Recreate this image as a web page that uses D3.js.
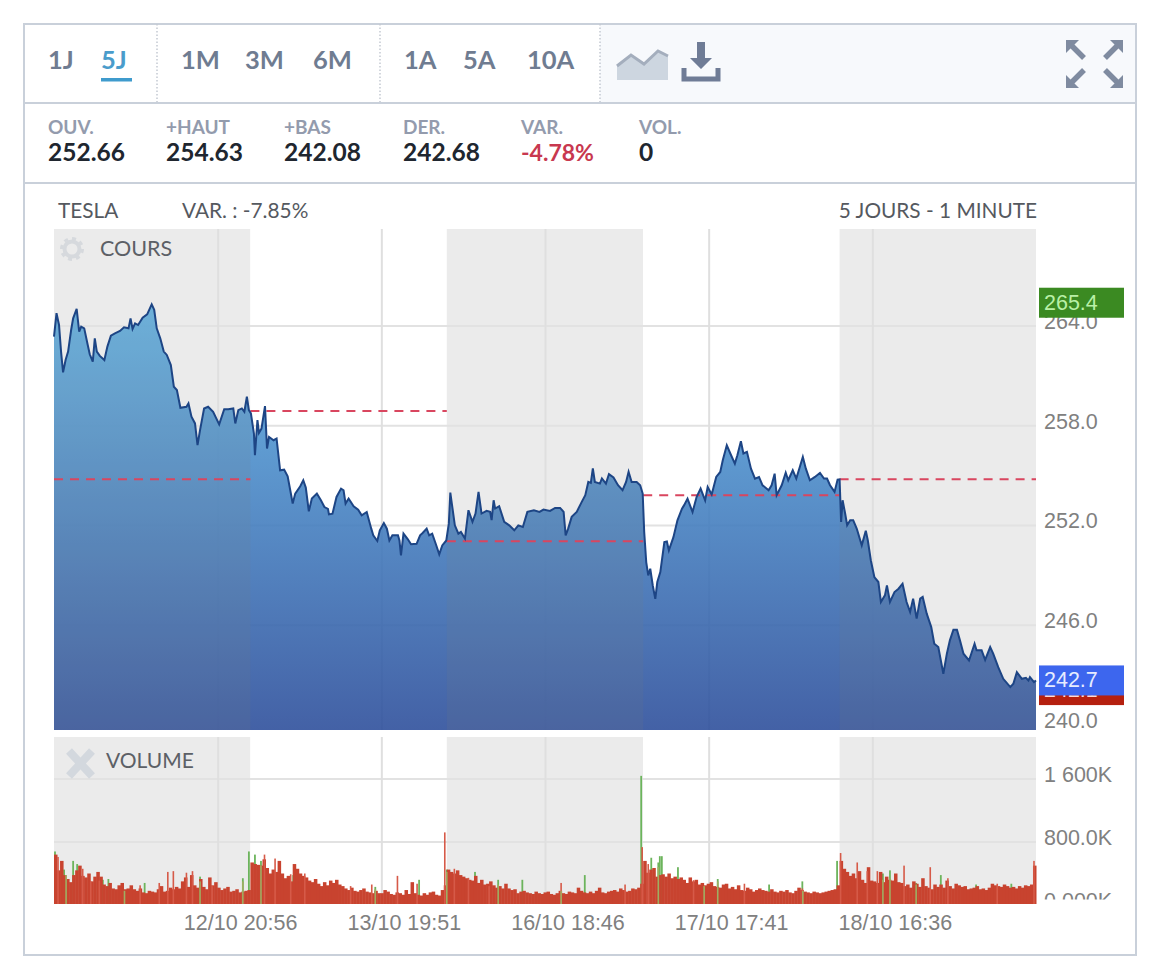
<!DOCTYPE html>
<html>
<head>
<meta charset="utf-8">
<script src="https://cdnjs.cloudflare.com/ajax/libs/d3/7.8.5/d3.min.js"></script>
<style>
  body { margin: 0; background: #fff; }
  text { font-family: Lato, sans-serif; }
  .axisTxt text { font-family: "Liberation Sans", sans-serif; font-size: 21.5px; fill: #808080; }
  .axisTxt path, .axisTxt line { display: none; }
</style>
</head>
<body>
<div id="chart"></div>
<script>
// Header values
var periodGroups = [["1J", "5J"], ["1M", "3M", "6M"], ["1A", "5A", "10A"]];
var statLabels = ["OUV.", "+HAUT", "+BAS", "DER.", "VAR.", "VOL."];
var statValues = ["252.66", "254.63", "242.08", "242.68", "-4.78%", "0"];

// Axis values
var priceTicks = [240, 246, 252, 258, 264];
var volumeTicks = [0, 800, 1600];
var volumeTickLabels = ["0.000K", "800.0K", "1 600K"];
var timeTicks = [326, 651, 976, 1301, 1626];
var timeLabels = ["12/10 20:56", "13/10 19:51", "16/10 18:46", "17/10 17:41", "18/10 16:36"];
var sessionStarts = [0, 390, 780, 1170, 1560, 1950];

// Reference level of each session (dashed)
var sessionRefs = [254.78, 258.88, 251.05, 253.82, 254.78];

var highPrice = 265.4, lowPrice = 242.1, lastPrice = 242.68;

// Price, [minute, value]
var priceDay1 = [[0,263.36],[5,264.77],[10,264.06],[14,262.46],[18,261.21],[23,261.95],[28,262.46],[34,263.76],[38,264.46],[45,265.03],[50,263.66],[54,263.96],[60,263.86],[67,262.86],[71,262.3],[77,261.85],[81,263.26],[85,262.46],[91,262.2],[100,261.95],[106,262.76],[113,263.42],[121,263.56],[131,263.7],[139,263.92],[148,263.86],[152,264.46],[156,263.82],[161,264.16],[167,264.06],[176,264.5],[185,264.7],[194,265.3],[199,264.97],[204,263.86],[211,263.26],[218,262.46],[224,262.26],[232,261.65],[238,260.35],[244,260.15],[251,259.08],[263,259.14],[267,259.34],[273,258.54],[280,258.14],[285,256.83],[290,257.74],[298,259.04],[306,259.14],[316,258.84],[328,258.08],[338,259.0],[346,259.0],[356,259.04],[360,258.14],[366,258.94],[373,259.04],[378,258.84],[383,259.75],[387,258.94]];
var priceDay2 = [[391,258.74],[397,257.53],[399,256.23],[404,258.34],[407,257.57],[412,257.83],[419,259.18],[423,256.63],[427,257.33],[436,257.13],[442,257.23],[449,255.32],[457,255.36],[464,254.96],[471,253.82],[474,253.32],[479,253.92],[489,254.36],[495,254.72],[500,254.28],[506,252.85],[512,253.62],[522,253.92],[530,253.52],[537,253.11],[544,253.0],[546,252.67],[553,252.71],[561,253.72],[570,254.22],[575,254.12],[579,253.32],[585,253.62],[595,253.15],[604,252.95],[611,252.61],[621,252.81],[630,251.81],[634,251.41],[642,251.07],[647,251.71],[655,252.15],[661,251.81],[666,251.1],[672,251.41],[683,251.41],[686,251.1],[689,250.2],[694,251.51],[702,251.2],[709,250.87],[720,250.9],[727,251.41],[732,251.55],[740,251.81],[745,251.41],[751,251.51],[758,250.9],[765,250.26],[771,250.8],[779,251.1]];
var priceDay3 = [[784,252.11],[787,253.98],[790,253.32],[796,252.01],[803,251.51],[808,251.61],[816,251.21],[823,252.92],[831,252.22],[837,252.72],[843,254.02],[849,252.72],[859,252.88],[866,252.82],[869,252.32],[873,253.52],[876,253.02],[884,253.16],[894,252.22],[904,252.01],[914,251.71],[922,252.01],[931,251.91],[940,252.82],[953,252.92],[964,252.82],[972,252.96],[985,252.88],[995,253.06],[1005,253.06],[1012,252.82],[1016,251.41],[1021,251.81],[1028,252.52],[1038,252.82],[1048,253.42],[1055,253.82],[1061,254.62],[1066,254.56],[1070,255.43],[1074,254.62],[1084,254.52],[1088,254.83],[1096,254.52],[1102,255.09],[1111,254.89],[1120,254.42],[1129,254.12],[1136,254.62],[1141,255.23],[1147,254.62],[1157,254.62]];
var priceDay4 = [[1164,254.42],[1169,253.92],[1172,251.61],[1176,249.8],[1180,249.0],[1184,249.4],[1189,248.39],[1194,247.59],[1198,248.6],[1204,249.2],[1212,251.0],[1217,251.04],[1221,250.5],[1230,251.3],[1238,252.31],[1247,253.01],[1251,253.21],[1258,253.61],[1268,252.81],[1276,253.71],[1284,254.22],[1293,253.51],[1298,254.32],[1306,253.86],[1315,254.92],[1323,255.22],[1328,255.92],[1336,256.83],[1343,256.33],[1352,255.72],[1357,256.23],[1364,257.07],[1369,256.33],[1376,256.43],[1384,255.42],[1392,254.82],[1400,254.92],[1407,254.42],[1419,254.12],[1425,254.42],[1431,255.12],[1435,253.82],[1445,254.42],[1453,255.18],[1458,254.72],[1467,255.32],[1474,254.82],[1482,255.62],[1487,256.12],[1493,255.42],[1501,254.72],[1511,254.92],[1521,255.16],[1529,254.82],[1535,254.82],[1541,254.42],[1550,254.02],[1556,254.76]];
var priceDay5 = [[1560,254.77],[1563,252.22],[1566,253.52],[1571,252.72],[1575,252.02],[1581,252.32],[1587,252.32],[1594,251.82],[1604,250.81],[1612,251.68],[1616,251.11],[1622,249.91],[1629,248.9],[1637,248.6],[1642,247.4],[1650,247.8],[1654,248.4],[1660,247.4],[1669,248.0],[1677,248.2],[1685,248.5],[1693,247.4],[1700,246.8],[1706,247.6],[1713,246.4],[1720,247.6],[1725,247.7],[1733,246.7],[1742,245.89],[1748,244.89],[1756,244.69],[1766,243.08],[1773,244.29],[1779,245.09],[1786,245.73],[1793,245.73],[1799,245.09],[1806,244.29],[1817,243.88],[1828,244.89],[1832,244.49],[1842,244.49],[1849,243.92],[1859,244.69],[1865,244.29],[1875,243.48],[1885,242.78],[1899,242.28],[1905,242.48],[1912,243.18],[1922,242.78],[1930,242.84],[1935,242.68],[1938,242.88],[1946,242.58],[1950,242.68]];

// Volume in K, one list per session, evenly spread over the session
var volDay1 = [640,440,560,380,330,290,380,440,500,370,350,400,300,360,420,360,260,240,280,210,200,250,280,200,210,250,200,180,210,160,150,180,170,160,200,240,170,180,220,200,230,210,300,350,230,380,250,220,330,230,200,350,250,290,220,190,210,230,170,180,200,160,170,180,190];
var volDay2 = [540,520,510,500,580,470,400,450,420,560,400,340,370,300,520,460,400,370,350,310,290,330,270,240,290,250,310,280,320,260,240,210,190,220,180,170,190,210,170,160,150,180,150,150,190,170,140,130,160,150,130,190,140,290,150,130,120,150,130,160,170,130,120,190,250];
var volDay3 = [450,420,400,440,380,360,340,320,310,370,280,320,260,270,300,250,220,240,210,270,210,190,200,150,170,180,160,150,140,170,150,140,160,170,140,130,150,180,150,140,170,160,150,220,180,160,150,170,150,180,220,160,150,170,180,190,170,210,190,170,180,210,200,220,270];
var volDay4 = [560,410,450,470,360,380,390,360,400,340,360,330,350,320,280,350,300,320,260,280,250,270,290,240,230,220,260,270,210,230,200,250,190,180,220,200,170,190,210,190,180,170,200,170,160,180,170,190,160,150,180,220,190,170,160,150,170,160,150,160,170,180,190,200,250];
var volDay5 = [560,460,420,370,400,340,430,320,280,480,310,300,280,420,290,360,320,310,400,290,280,240,260,220,300,270,230,340,240,220,200,260,230,260,220,310,240,210,270,250,230,240,200,210,220,240,200,210,190,220,270,250,240,230,260,240,220,230,210,240,220,250,240,260,500];

// Thin spikes, [minute, value in K]
var greenSpikes = [[2,680],[20,450],[38,560],[46,520],[97,320],[108,330],[140,180],[180,280],[290,360],[375,340],[387,680],[399,640],[411,560],[475,380],[638,230],[725,320],[780,450],[836,420],[882,320],[930,320],[1054,380],[1166,1640],[1186,600],[1200,540],[1203,620],[1207,620],[1239,480],[1318,330],[1420,260],[1486,300],[1555,560],[1646,400],[1660,440],[1712,280],[1761,380],[1831,260],[1901,270]];
var redSpikes = [[8,610],[57,460],[73,300],[90,310],[171,250],[209,280],[226,420],[237,430],[263,410],[275,430],[314,240],[418,640],[439,590],[470,390],[498,400],[589,240],[631,260],[682,370],[721,270],[776,922],[795,460],[823,345],[864,240],[1007,280],[1134,260],[1168,735],[1180,520],[1270,315],[1371,270],[1486,210],[1562,660],[1595,540],[1615,430],[1635,430],[1688,500],[1740,480],[1775,340],[1873,270],[1946,560]];
// Green bars that show through the red ones, minutes
var greenStreaks = [[24,380],[140,180],[290,300],[375,300],[411,500],[638,200],[780,420],[882,260],[1007,180],[1200,480],[1291,240],[1318,300],[1487,180],[1646,320],[1660,340],[1712,260]];

var width = 1150, height = 976;
var plotLeft = 54, plotRight = 1036;
var priceTop = 229, priceBottom = 730;
var volTop = 737, volBottom = 904;

var svg = d3.select("#chart").append("svg")
  .attr("width", width)
  .attr("height", height);

var defs = svg.append("defs");

var grad = defs.append("linearGradient")
  .attr("id", "areaFill")
  .attr("gradientUnits", "userSpaceOnUse")
  .attr("x1", 0).attr("x2", 0)
  .attr("y1", 305).attr("y2", priceBottom);
grad.append("stop").attr("offset", "0%").attr("stop-color", "#5cb0e4");
grad.append("stop").attr("offset", "100%").attr("stop-color", "#2f509c");

defs.append("clipPath").attr("id", "volClip")
  .append("rect")
  .attr("x", 0).attr("y", 0)
  .attr("width", width).attr("height", volBottom);

// Scales
var xScale = d3.scaleLinear().domain([0, 1950]).range([plotLeft, plotRight]);
var yPrice = d3.scaleLinear().domain([240, 264]).range([725, 326]);
var yVolume = d3.scaleLinear().domain([0, 1600]).range([905, 779]);

// Frame and header
var frameColor = "#c9d0da";
svg.append("rect")
  .attr("x", 600).attr("y", 24)
  .attr("width", 535).attr("height", 79)
  .attr("fill", "#f7f9fc");
svg.append("rect")
  .attr("x", 24).attr("y", 24)
  .attr("width", 1112).attr("height", 931)
  .attr("fill", "none")
  .attr("stroke", frameColor)
  .attr("stroke-width", 2);
[103, 183].forEach(function(y) {
  svg.append("line")
    .attr("x1", 24).attr("x2", 1136)
    .attr("y1", y).attr("y2", y)
    .attr("stroke", frameColor)
    .attr("stroke-width", 2);
});
[157, 380, 600].forEach(function(x) {
  svg.append("line")
    .attr("x1", x).attr("x2", x)
    .attr("y1", 24).attr("y2", 102)
    .attr("stroke", "#c4c9d2")
    .attr("stroke-width", 1.5)
    .attr("stroke-dasharray", "1.5 2");
});

// Period buttons
var periodX = [[48, 101], [181, 245, 313], [404, 463, 527]];
periodGroups.forEach(function(group, g) {
  group.forEach(function(label, i) {
    svg.append("text")
      .attr("x", periodX[g][i])
      .attr("y", 68.5)
      .attr("font-size", 25.5)
      .attr("font-weight", 700)
      .attr("fill", label === "5J" ? "#4a9ccb" : "#6f7c91")
      .text(label);
  });
});
svg.append("rect")
  .attr("x", 101).attr("y", 78)
  .attr("width", 31).attr("height", 3.5)
  .attr("fill", "#3f9bcd");

// Toolbar icons
svg.append("path")
  .attr("d", "M617 80V66L631 55L644 64L658 51L668 56V80Z")
  .attr("fill", "#cdd6e0");
svg.append("path")
  .attr("d", "M617 66L631 55L644 64L658 51L668 56")
  .attr("fill", "none")
  .attr("stroke", "#a4aebd")
  .attr("stroke-width", 3);
svg.append("path")
  .attr("d", "M697 42H705V58H712L701 69L690 58H697Z")
  .attr("fill", "#6f7c96");
svg.append("path")
  .attr("d", "M684 68V79H718V68")
  .attr("fill", "none")
  .attr("stroke", "#6f7c96")
  .attr("stroke-width", 5);

// Expand arrows
var arrowColor = "#7f8ba0";
[
  { head: "M1066 40H1079L1066 53Z", shaft: "M1071 45L1084 58" },
  { head: "M1123 40H1110L1123 53Z", shaft: "M1118 45L1105 58" },
  { head: "M1066 88H1079L1066 75Z", shaft: "M1071 83L1084 70" },
  { head: "M1123 88H1110L1123 75Z", shaft: "M1118 83L1105 70" }
].forEach(function(a) {
  svg.append("path").attr("d", a.head).attr("fill", arrowColor);
  svg.append("path").attr("d", a.shaft)
    .attr("stroke", arrowColor)
    .attr("stroke-width", 5.5);
});

// Quote strip
var statX = [48, 166, 284, 403, 521, 639];
statLabels.forEach(function(label, i) {
  svg.append("text")
    .attr("x", statX[i]).attr("y", 134)
    .attr("font-size", 19)
    .attr("font-weight", 700)
    .attr("fill", "#939bad")
    .text(label);
  svg.append("text")
    .attr("x", statX[i]).attr("y", 161)
    .attr("font-size", label === "VAR." ? 23 : 24.5)
    .attr("font-weight", 700)
    .attr("fill", label === "VAR." ? "#c8384f" : "#20262f")
    .text(statValues[i]);
});

// Chart titles
svg.append("text").attr("x", 58).attr("y", 218)
  .attr("font-size", 20.8).attr("fill", "#55595f").text("TESLA");
svg.append("text").attr("x", 182).attr("y", 218)
  .attr("font-size", 20.8).attr("fill", "#55595f").text("VAR. : -7.85%");
svg.append("text").attr("x", 1037).attr("y", 218)
  .attr("text-anchor", "end")
  .attr("font-size", 20.8).attr("fill", "#55595f").text("5 JOURS - 1 MINUTE");

// Panel background: sessions and grid
function drawPanel(top, bottom, yTicks, yScale) {
  var panel = svg.append("g");
  panel.selectAll(".session")
    .data(d3.range(5))
    .enter()
    .append("rect")
    .attr("x", d => xScale(sessionStarts[d]))
    .attr("y", top)
    .attr("width", d => xScale(sessionStarts[d + 1]) - xScale(sessionStarts[d]))
    .attr("height", bottom - top)
    .attr("fill", d => d % 2 === 0 ? "#ebebeb" : "#ffffff");
  panel.selectAll(".hgrid")
    .data(yTicks)
    .enter()
    .append("line")
    .attr("x1", plotLeft).attr("x2", plotRight)
    .attr("y1", d => yScale(d)).attr("y2", d => yScale(d))
    .attr("stroke", "#e2e2e2")
    .attr("stroke-width", 2);
  panel.selectAll(".vgrid")
    .data(timeTicks)
    .enter()
    .append("line")
    .attr("x1", d => xScale(d)).attr("x2", d => xScale(d))
    .attr("y1", top).attr("y2", bottom)
    .attr("stroke", "#dfdfdf")
    .attr("stroke-width", 2);
}

drawPanel(priceTop, priceBottom, priceTicks.filter(d => d > 240), yPrice);
drawPanel(volTop, volBottom, volumeTicks.filter(d => d > 0), yVolume);

// Price area and line
var priceData = priceDay1.concat(priceDay2, priceDay3, priceDay4, priceDay5);

var area = d3.area()
  .x(d => xScale(d[0]))
  .y0(priceBottom)
  .y1(d => yPrice(d[1]));
var line = d3.line()
  .x(d => xScale(d[0]))
  .y(d => yPrice(d[1]));

svg.append("path")
  .datum(priceData)
  .attr("d", area)
  .attr("fill", "url(#areaFill)")
  .attr("fill-opacity", 0.9);

// Grey sessions dull the area a little
defs.append("clipPath").attr("id", "areaClip")
  .append("path")
  .datum(priceData)
  .attr("d", area);
svg.append("g")
  .attr("clip-path", "url(#areaClip)")
  .selectAll("rect")
  .data([0, 2, 4])
  .enter()
  .append("rect")
  .attr("x", d => xScale(sessionStarts[d]))
  .attr("y", priceTop)
  .attr("width", d => xScale(sessionStarts[d + 1]) - xScale(sessionStarts[d]))
  .attr("height", priceBottom - priceTop)
  .attr("fill", "#8c8c80")
  .attr("opacity", 0.12);

// Dashed session references
svg.selectAll(".refLine")
  .data(sessionRefs)
  .enter()
  .append("line")
  .attr("x1", (d, i) => xScale(sessionStarts[i]))
  .attr("x2", (d, i) => xScale(sessionStarts[i + 1]))
  .attr("y1", d => yPrice(d))
  .attr("y2", d => yPrice(d))
  .attr("stroke", "#d9465f")
  .attr("stroke-width", 2)
  .attr("stroke-dasharray", "9 7");

svg.append("path")
  .datum(priceData)
  .attr("d", line)
  .attr("fill", "none")
  .attr("stroke", "#1d4585")
  .attr("stroke-width", 2);

// Panel captions
svg.append("circle").attr("cx", 72).attr("cy", 249).attr("r", 7.5)
  .attr("fill", "none").attr("stroke", "#d6d9dd").attr("stroke-width", 4);
svg.append("circle").attr("cx", 72).attr("cy", 249).attr("r", 10.5)
  .attr("fill", "none").attr("stroke", "#d6d9dd").attr("stroke-width", 3)
  .attr("stroke-dasharray", "4 4.2");
svg.append("text").attr("x", 100).attr("y", 256)
  .attr("font-size", 21.5).attr("fill", "#5c6066").text("COURS");

svg.append("path")
  .attr("d", "M69 751L92 776M92 751L69 776")
  .attr("stroke", "#d3d8de")
  .attr("stroke-width", 8);
svg.append("text").attr("x", 106).attr("y", 768)
  .attr("font-size", 21).attr("fill", "#5c6066").text("VOLUME");

// Volume bars
var volGroup = svg.append("g").attr("clip-path", "url(#volClip)");

volGroup.selectAll(".greenSpike")
  .data(greenSpikes)
  .enter()
  .append("rect")
  .attr("x", d => xScale(d[0]) - 0.9)
  .attr("y", d => yVolume(d[1]))
  .attr("width", 1.8)
  .attr("height", d => yVolume(0) - yVolume(d[1]))
  .attr("fill", "#6cb45c");

var volDays = [volDay1, volDay2, volDay3, volDay4, volDay5];
volDays.forEach(function(dayValues, day) {
  var step = (sessionStarts[day + 1] - sessionStarts[day]) / dayValues.length;
  volGroup.selectAll(".volDay" + day)
    .data(dayValues)
    .enter()
    .append("rect")
    .attr("class", "volDay" + day)
    .attr("x", (d, i) => xScale(sessionStarts[day] + i * step))
    .attr("y", d => yVolume(d))
    .attr("width", xScale(step) - xScale(0) + 0.5)
    .attr("height", d => yVolume(0) - yVolume(d))
    .attr("fill", "#c8432f");
});

volGroup.selectAll(".redSpike")
  .data(redSpikes)
  .enter()
  .append("rect")
  .attr("x", d => xScale(d[0]) - 0.8)
  .attr("y", d => yVolume(d[1]))
  .attr("width", 1.6)
  .attr("height", d => yVolume(0) - yVolume(d[1]))
  .attr("fill", "#d65a48");

volGroup.selectAll(".greenStreak")
  .data(greenStreaks)
  .enter()
  .append("rect")
  .attr("x", d => xScale(d[0]) - 0.8)
  .attr("y", d => yVolume(d[1]))
  .attr("width", 1.6)
  .attr("height", d => yVolume(0) - yVolume(d[1]))
  .attr("fill", "#9fae62");

// Axes
svg.append("g")
  .attr("class", "axisTxt")
  .attr("transform", "translate(1039, -4.5)")
  .call(d3.axisRight(yPrice).tickValues(priceTicks).tickSize(0).tickPadding(5).tickFormat(d => d.toFixed(1)));

svg.append("g")
  .attr("class", "axisTxt")
  .attr("clip-path", "url(#volClip)")
  .attr("transform", "translate(1039, -4.5)")
  .call(d3.axisRight(yVolume).tickValues(volumeTicks).tickSize(0).tickPadding(5)
    .tickFormat((d, i) => volumeTickLabels[i]));

svg.append("g")
  .attr("class", "axisTxt")
  .attr("transform", "translate(22, 904)")
  .call(d3.axisBottom(xScale).tickValues(timeTicks).tickSize(0).tickPadding(11)
    .tickFormat((d, i) => timeLabels[i]));

// Price tags
function priceTag(value, fill, textFill) {
  var y = yPrice(value);
  svg.append("rect")
    .attr("x", 1039).attr("y", y - 15)
    .attr("width", 85).attr("height", 30)
    .attr("fill", fill);
  svg.append("text")
    .attr("x", 1044).attr("y", y + 7)
    .style("font-family", "Liberation Sans")
    .attr("font-size", 21.5)
    .attr("fill", textFill)
    .text(value.toFixed(1));
}

priceTag(highPrice, "#3b8a22", "#b9f0a6");
priceTag(lowPrice, "#b5200f", "#ffd9d2");
priceTag(lastPrice, "#3d66ee", "#e6ecff");
</script>
</body>
</html>
